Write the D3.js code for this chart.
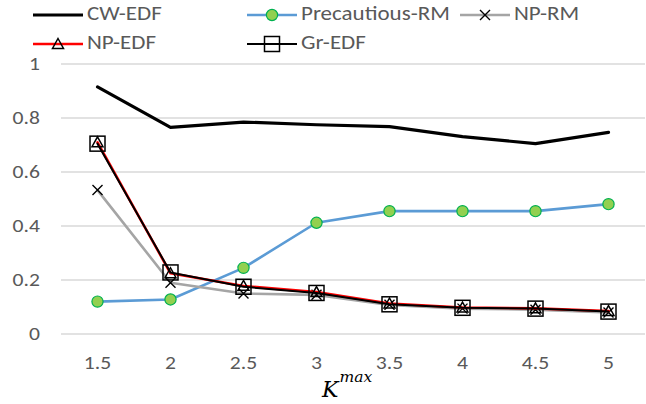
<!DOCTYPE html>
<html>
<head>
<meta charset="utf-8">
<script src="https://cdn.jsdelivr.net/npm/d3@7"></script>
<style>
  body { margin: 0; background: #fff; }
  text { font-family: Calibri, Carlito, "Noto Sans", sans-serif; }
  /* the reference text looks a bit wider than plain Calibri */
  .tick text { fill: #595959; font-size: 18.5px; transform-box: fill-box; transform: scaleX(1.17); }
  .yTicks .tick text { transform-origin: right center; }
  .xTicks .tick text { transform-origin: center center; }
  .legendText { fill: #595959; font-size: 20px; transform-box: fill-box; transform-origin: left center; transform: scaleX(1.15); }
</style>
</head>
<body>
<div id="canvas"></div>
<script>
"use strict"
// chart size
let svgWidth = 646;
let svgHeight = 404;

let margin = { top: 64, right: 1, bottom: 70, left: 61 };

// data
let kmax = ["1.5", "2", "2.5", "3", "3.5", "4", "4.5", "5"];
let cwEdf = [0.915, 0.765, 0.785, 0.775, 0.768, 0.731, 0.705, 0.747];
let precautiousRm = [0.12, 0.128, 0.245, 0.412, 0.455, 0.455, 0.455, 0.481];
let npRm = [0.533, 0.19, 0.15, 0.145, 0.108, 0.094, 0.09, 0.08];
let npEdf = [0.71, 0.225, 0.178, 0.155, 0.113, 0.098, 0.095, 0.085];
let grEdf = [0.705, 0.228, 0.175, 0.152, 0.11, 0.097, 0.094, 0.083];
let yTicks = [0, 0.2, 0.4, 0.6, 0.8, 1];

let series = [
    { name: "CW-EDF", values: cwEdf, color: "#000000", width: 3.2, marker: "none" },
    { name: "Precautious-RM", values: precautiousRm, color: "#5b9bd5", width: 2.6, marker: "circle" },
    { name: "NP-RM", values: npRm, color: "#a5a5a5", width: 2.6, marker: "cross" },
    { name: "NP-EDF", values: npEdf, color: "#ff0000", width: 2.6, marker: "triangle" },
    { name: "Gr-EDF", values: grEdf, color: "#000000", width: 2, marker: "square" }
];

let svg = d3.select("#canvas")
    .append("svg")
    .attr("width", svgWidth)
    .attr("height", svgHeight);

let plotW = svgWidth - margin.left - margin.right;
let plotH = svgHeight - margin.top - margin.bottom;

let xScale = d3.scaleBand().domain(kmax).range([margin.left, margin.left + plotW]);
let yScale = d3.scaleLinear().domain([0, 1]).range([margin.top + plotH, margin.top]);

function xPos(i) { return xScale(kmax[i]) + xScale.bandwidth() / 2; }

// gridlines
svg.append("g")
    .selectAll("line")
    .data(yTicks)
    .join("line")
    .attr("x1", margin.left)
    .attr("x2", margin.left + plotW)
    .attr("y1", d => yScale(d))
    .attr("y2", d => yScale(d))
    .attr("stroke", "#d9d9d9")
    .attr("stroke-width", 1.3);

// y axis labels
let yAxis = svg.append("g")
    .attr("class", "yTicks")
    .attr("transform", "translate(" + margin.left + ",0)")
    .call(d3.axisLeft(yScale).tickValues(yTicks).tickSize(0).tickPadding(21).tickFormat(d3.format("")));
yAxis.select(".domain").remove();

// x axis labels
let xAxis = svg.append("g")
    .attr("class", "xTicks")
    .attr("transform", "translate(0," + (margin.top + plotH) + ")")
    .call(d3.axisBottom(xScale).tickSize(0).tickPadding(22));
xAxis.select(".domain").remove();

// axis title K^max
let title = svg.append("text")
    .attr("x", 322)
    .attr("y", 397)
    .style("font-family", "'DejaVu Serif', serif")
    .style("font-style", "italic")
    .style("font-size", "22px")
    .attr("fill", "#000");
title.append("tspan").text("K");
title.append("tspan").attr("dy", -15).attr("dx", 1).style("font-size", "15.5px").text("max");

// draw one marker
function drawMarker(g, type, x, y) {
    if (type == "circle") {
        g.append("circle").attr("cx", x).attr("cy", y).attr("r", 5.6)
            .attr("fill", "#92d050").attr("stroke", "#00b050").attr("stroke-width", 1.2);
    } else if (type == "cross") {
        let s = 5;
        g.append("path")
            .attr("d", "M" + (x - s) + "," + (y - s) + "L" + (x + s) + "," + (y + s) +
                "M" + (x - s) + "," + (y + s) + "L" + (x + s) + "," + (y - s))
            .attr("stroke", "#000").attr("stroke-width", 1.4).attr("fill", "none");
    } else if (type == "triangle") {
        let s = 5.5;
        g.append("path")
            .attr("d", "M" + x + "," + (y - s) + "L" + (x + s) + "," + (y + s * 0.8) + "L" + (x - s) + "," + (y + s * 0.8) + "Z")
            .attr("stroke", "#000").attr("stroke-width", 1.5).attr("fill", "none");
    } else if (type == "square") {
        let s = 7.5;
        g.append("rect").attr("x", x - s).attr("y", y - s).attr("width", 2 * s).attr("height", 2 * s)
            .attr("stroke", "#000").attr("stroke-width", 1.5).attr("fill", "none");
    }
}

// lines and markers
let line = d3.line()
    .x((d, i) => xPos(i))
    .y(d => yScale(d));

series.forEach(function (s) {
    let g = svg.append("g");
    g.append("path")
        .datum(s.values)
        .attr("d", line)
        .attr("fill", "none")
        .attr("stroke", s.color)
        .attr("stroke-width", s.width)
        .attr("stroke-linejoin", "round")
        .attr("stroke-linecap", "round");
    s.values.forEach(function (v, i) {
        drawMarker(g, s.marker, xPos(i), yScale(v));
    });
});

// legend
let legendPos = [
    { x: 33, y: 15 }, { x: 247, y: 15 }, { x: 460, y: 15 },
    { x: 33, y: 44 }, { x: 247, y: 44 }
];
series.forEach(function (s, i) {
    let p = legendPos[i];
    let g = svg.append("g");
    g.append("line")
        .attr("x1", p.x).attr("x2", p.x + 50)
        .attr("y1", p.y).attr("y2", p.y)
        .attr("stroke", s.color).attr("stroke-width", s.width);
    drawMarker(g, s.marker, p.x + 25, p.y);
    g.append("text")
        .attr("x", p.x + 54)
        .attr("y", p.y + 5)
        .attr("class", "legendText")
        .text(s.name);
});
</script>
</body>
</html>
